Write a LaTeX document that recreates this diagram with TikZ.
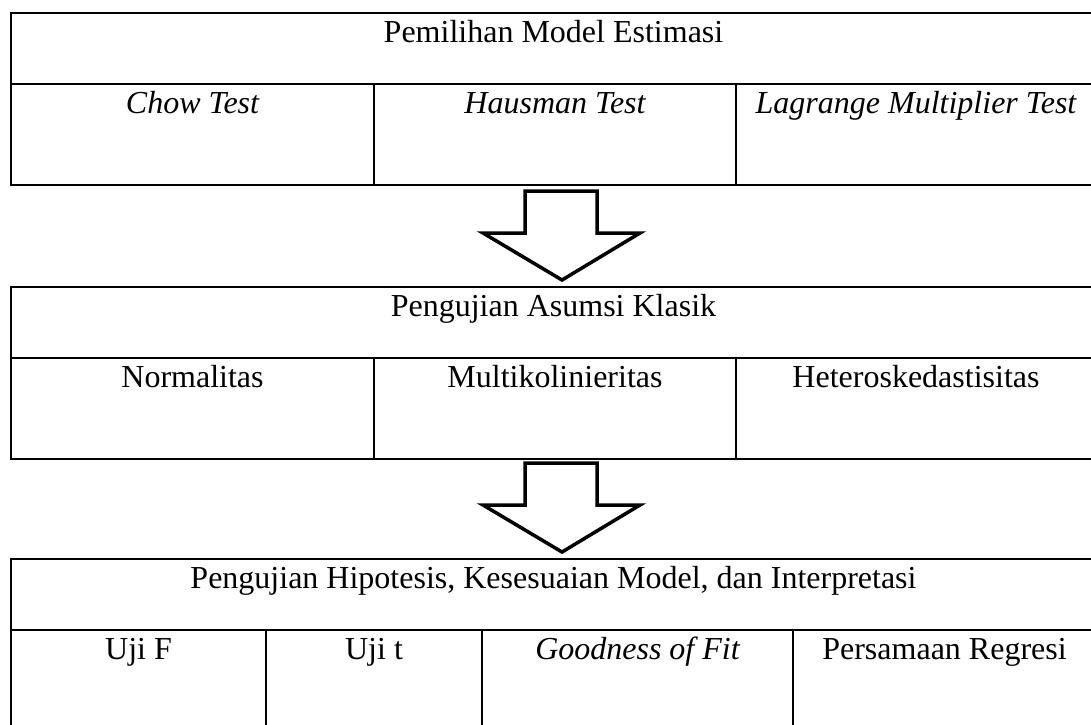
\documentclass[tikz,border=0pt]{standalone}
\usepackage{fontspec}
\setmainfont{Liberation Serif}
\usepackage{tikz}
\usetikzlibrary{positioning}

\newcommand{\tabfont}{\fontsize{32}{38}\selectfont}

\begin{document}
\begin{tikzpicture}[x=1pt, y=-1pt,
    % Define styles for the table cells and the block arrows
    cell/.style={rectangle, draw, line width=2pt, anchor=north west, inner sep=0pt, text height=29pt, font=\tabfont},
    headcell/.style={cell, minimum width=1085pt, text depth=42pt},
    subcell/.style={cell, text depth=72pt},
    blockarrow/.style={draw, line width=3.5pt, fill=white, line join=miter}
]
    \useasboundingbox (0,0) rectangle (1091,724);
    \clip (0,0) rectangle (1091,724);

    % Pemilihan model
    \node[headcell] (est) at (10,12) {Pemilihan Model Estimasi};
    \node[subcell, minimum width=363pt] (chow) at (10,83) {\itshape Chow Test};
    \node[subcell, minimum width=362pt] (haus) at (373,83) {\itshape Hausman Test};
    \node[subcell, minimum width=360pt] (lm) at (735,83) {\itshape Lagrange Multiplier Test};

    % Asumsi klasik
    \node[headcell] (asm) at (10,286) {Pengujian Asumsi Klasik};
    \node[subcell, minimum width=363pt] (norm) at (10,357) {Normalitas};
    \node[subcell, minimum width=362pt] (multi) at (373,357) {Multikolinieritas};
    \node[subcell, minimum width=360pt] (hetero) at (735,357) {Heteroskedastisitas};

    % Hipotesis
    \node[headcell] (hip) at (10,558) {Pengujian Hipotesis, Kesesuaian Model, dan Interpretasi};
    \node[subcell, minimum width=255pt] (ujif) at (10,629) {Uji F};
    \node[subcell, minimum width=216pt] (ujit) at (265,629) {Uji t};
    \node[subcell, minimum width=311pt] (gof) at (481,629) {\itshape Goodness of Fit};
    \node[subcell, minimum width=303pt] (reg) at (792,629) {Persamaan Regresi};

    % Block arrows between the tables
    \foreach \y in {191,463} {
        \draw[blockarrow] (525,\y) -- (597,\y) -- (597,\y+42) -- (640,\y+42)
            -- (562,\y+89) -- (483,\y+42) -- (525,\y+42) -- cycle;
    }

\end{tikzpicture}
\end{document}
